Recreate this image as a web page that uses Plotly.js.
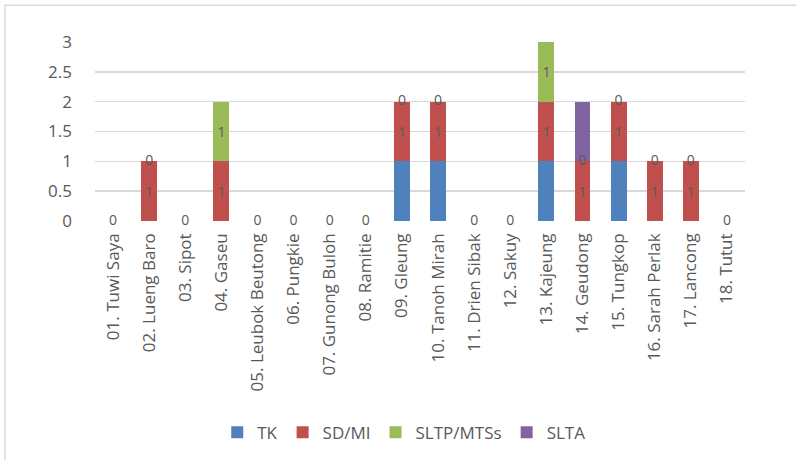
<!DOCTYPE html>
<html>
<head>
<meta charset="utf-8">
<script src="https://cdn.plot.ly/plotly-3.0.1.min.js"></script>
<style>html,body{margin:0;padding:0;background:#fff;}#chart{width:796px;height:460px;}</style>
</head>
<body>
<div id="chart"></div>
<script>
const categories = ["01. Tuwi Saya","02. Lueng Baro","03. Sipot","04. Gaseu","05. Leubok Beutong","06. Pungkie","07. Gunong Buloh","08. Ramitie","09. Gleung","10. Tanoh Mirah","11. Drien Sibak","12. Sakuy","13. Kajeung","14. Geudong","15. Tungkop","16. Sarah Perlak","17. Lancong","18. Tutut"];
const tk    = [0,0,0,0,0,0,0,0,1,1,0,0,1,0,1,0,0,0];
const sdmi  = [0,1,0,1,0,0,0,0,1,1,0,0,1,1,1,1,1,0];
const sltp  = [0,0,0,1,0,0,0,0,0,0,0,0,1,0,0,0,0,0];
const slta  = [0,0,0,0,0,0,0,0,0,0,0,0,0,1,0,0,0,0];
const seriesNames = ["TK","SD/MI","SLTP/MTSs","SLTA"];
const colors = ["#4F81BD","#C0504D","#9BBB59","#8064A2"];

const font = "'Open Sans', sans-serif";
const labelColor = "#595959";

function bar(name, vals, color, showText) {
  return {
    type: "bar", name: name, x: categories, y: vals,
    marker: {color: color, line: {width: 0}},
    text: showText ? vals.map(v => v ? String(v) : "") : undefined,
    textposition: showText ? "inside" : "none",
    insidetextanchor: "middle", textangle: 0, constraintext: "none",
    textfont: {color: labelColor, size: 14, family: font},
    hoverinfo: "name+y"
  };
}

const traces = [
  bar(seriesNames[0], tk, colors[0], false),
  bar(seriesNames[1], sdmi, colors[1], true),
  bar(seriesNames[2], sltp, colors[2], true),
  bar(seriesNames[3], slta, colors[3], false)
];

// zero-value labels of the SLTP/MTSs series, at the top of the stack below it
const zeroX = [], zeroY = [], zeroT = [];
categories.forEach((c, i) => {
  if (sltp[i] === 0) { zeroX.push(c); zeroY.push(tk[i] + sdmi[i]); zeroT.push("0"); }
});
traces.push({
  type: "scatter", mode: "text", x: zeroX, y: zeroY, text: zeroT,
  textposition: "middle center", showlegend: false, hoverinfo: "skip", cliponaxis: false,
  textfont: {color: labelColor, size: 14, family: font}
});

const layout = {
  width: 796, height: 460,
  margin: {l: 95, r: 51, t: 42, b: 238},
  paper_bgcolor: "#ffffff", plot_bgcolor: "#ffffff",
  barmode: "stack", bargap: 0.56,
  font: {family: font, color: labelColor},
  xaxis: {
    type: "category", range: [-0.5, 17.5], autorange: false, automargin: false,
    tickangle: -90, showgrid: false, zeroline: false,
    showline: false, ticks: "", ticklabelstandoff: 8,
    tickfont: {size: 17, color: labelColor, family: font}
  },
  yaxis: {
    range: [0, 3], autorange: false, automargin: false, dtick: 0.5,
    showgrid: true, gridcolor: "#d9d9d9", gridwidth: 1.5,
    zeroline: false, showline: false, ticks: "", ticklabelstandoff: 22,
    tickfont: {size: 17, color: labelColor, family: font}
  },
  legend: {
    orientation: "h", x: 0.475, xanchor: "center", y: -1.17, yanchor: "middle",
    font: {size: 17, color: labelColor, family: font}, traceorder: "normal",
    itemwidth: 30
  },
  shapes: [{
    type: "rect", xref: "paper", yref: "paper",
    x0: -0.1385, x1: 2, y0: -3, y1: 1.2056,
    line: {color: "#d9d9d9", width: 1.5}, fillcolor: "rgba(0,0,0,0)", layer: "below"
  }]
};

Plotly.newPlot("chart", traces, layout, {displayModeBar: false, staticPlot: true});
</script>
</body>
</html>
